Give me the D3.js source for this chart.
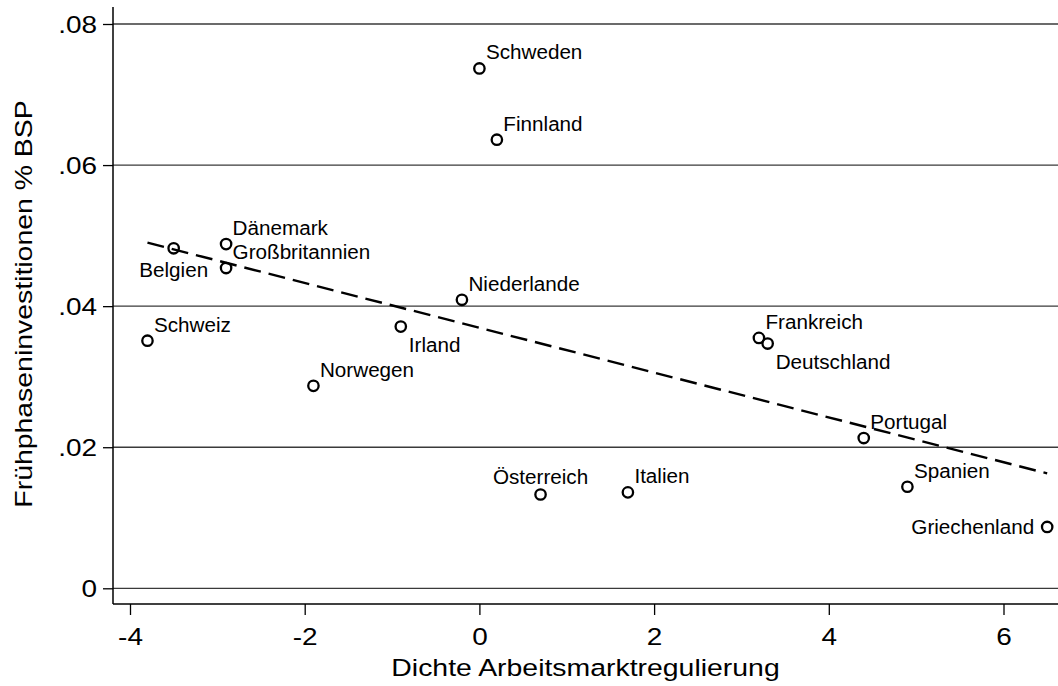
<!DOCTYPE html>
<html>
<head>
<meta charset="utf-8">
<script src="https://cdn.jsdelivr.net/npm/d3@7"></script>
<style>
  body { margin: 0; background: #fff; }
  text { font-family: "Liberation Sans", Arial, Helvetica, sans-serif; fill: #000; }
</style>
</head>
<body>
<div id="chart"></div>
<script>
// data
var countries  = ["Schweden", "Finnland", "Dänemark", "Großbritannien", "Belgien", "Niederlande", "Schweiz", "Irland",
                  "Norwegen", "Frankreich", "Deutschland", "Portugal", "Österreich", "Italien", "Spanien", "Griechenland"];
var regulation = [0, 0.2, -2.9, -2.9, -3.5, -0.2, -3.8, -0.9, -1.9, 3.2, 3.3, 4.4, 0.7, 1.7, 4.9, 6.5];
var earlyStage = [0.0737, 0.0636, 0.0488, 0.0454, 0.0482, 0.0409, 0.0351, 0.0371, 0.0287, 0.0355, 0.0347, 0.0213,
                  0.0133, 0.0136, 0.0144, 0.0087];
var xTicks = [-4, -2, 0, 2, 4, 6];
var yTicks = [0, 0.02, 0.04, 0.06, 0.08];
var xTitle = "Dichte Arbeitsmarktregulierung";
var yTitle = "Frühphaseninvestitionen % BSP";

// where each marker label sits (clock position, Stata style); default is 1 o'clock
var labelClock = {"Belgien": 6, "Irland": 4, "Deutschland": 4, "Griechenland": 9, "Österreich": 12};
var clockOffset = {
  1:  {dx: 6.5, dy: -9,  anchor: "start"},
  4:  {dx: 8,   dy: 25.5, anchor: "start"},
  6:  {dx: 0,   dy: 29,  anchor: "middle"},
  9:  {dx: -13, dy: 7,   anchor: "end"},
  12: {dx: 0,   dy: -10, anchor: "middle"}
};

var width = 1058, height = 686,
    plotLeft = 113, plotRight = 1058, plotTop = 7, plotBottom = 604;

var svg = d3.select("#chart").append("svg")
    .attr("width", width)
    .attr("height", height);

var x = d3.scaleLinear().domain([-4, 6]).range([130, 1003.5]);
var y = d3.scaleLinear().domain([0, 0.08]).range([588.3, 24]);

var data = countries.map(function(c, i) {
  return {name: c, x: regulation[i], y: earlyStage[i]};
});

// grid lines
svg.append("g")
  .selectAll("line")
  .data(yTicks)
  .join("line")
    .attr("x1", plotLeft)
    .attr("x2", plotRight)
    .attr("y1", d => y(d))
    .attr("y2", d => y(d))
    .attr("stroke", "#3a3a3a")
    .attr("stroke-width", 1.3);

// y axis
var yFmt = d => d === 0 ? "0" : d3.format(".2f")(d).replace(/^0/, "");
var yAxis = svg.append("g")
    .attr("transform", `translate(${plotLeft},0)`)
    .call(d3.axisLeft(y).tickValues(yTicks).tickFormat(yFmt).tickSize(10).tickSizeOuter(0));
yAxis.select(".domain").remove();
yAxis.selectAll(".tick line").attr("stroke", "#000").attr("stroke-width", 1.3);
yAxis.selectAll(".tick text")
    .attr("x", 0).attr("dy", null)
    .attr("text-anchor", "end")
    .attr("font-size", 23.3)
    .attr("transform", "translate(-16,8.5) scale(1.2,1)");

// x axis (plain hyphen for negatives, like the original)
var xAxis = svg.append("g")
    .attr("transform", `translate(0,${plotBottom})`)
    .call(d3.axisBottom(x).tickValues(xTicks).tickFormat(d => String(d)).tickSize(11).tickSizeOuter(0));
xAxis.select(".domain").remove();
xAxis.selectAll(".tick line").attr("stroke", "#000").attr("stroke-width", 1.3);
xAxis.selectAll(".tick text")
    .attr("y", 41.5).attr("dy", null)
    .attr("font-size", 23.3)
    .attr("transform", "scale(1.2,1)");

// axis lines
svg.append("line")
    .attr("x1", plotLeft).attr("x2", plotLeft)
    .attr("y1", plotTop).attr("y2", plotBottom)
    .attr("stroke", "#000").attr("stroke-width", 1.5);
svg.append("line")
    .attr("x1", plotLeft).attr("x2", plotRight)
    .attr("y1", plotBottom).attr("y2", plotBottom)
    .attr("stroke", "#000").attr("stroke-width", 1.5);

// axis titles
svg.append("text")
    .attr("text-anchor", "middle")
    .attr("font-size", 23.3)
    .attr("transform", `translate(${(plotLeft + plotRight) / 2},676) scale(1.22,1)`)
    .text(xTitle);
svg.append("text")
    .attr("text-anchor", "middle")
    .attr("font-size", 23.3)
    .attr("transform", `translate(32,304) rotate(-90) scale(1.22,1)`)
    .text(yTitle);

// linear fit (OLS over the points)
var mx = d3.mean(regulation), my = d3.mean(earlyStage);
var sxy = d3.sum(data, d => (d.x - mx) * (d.y - my));
var sxx = d3.sum(data, d => (d.x - mx) * (d.x - mx));
var slope = sxy / sxx, intercept = my - slope * mx;
var fitX = d3.extent(regulation);

svg.append("path")
    .datum(fitX.map(v => [v, intercept + slope * v]))
    .attr("d", d3.line().x(d => x(d[0])).y(d => y(d[1])))
    .attr("fill", "none")
    .attr("stroke", "#000")
    .attr("stroke-width", 2.4)
    .attr("stroke-dasharray", "17,8");

// markers
svg.append("g")
  .selectAll("circle")
  .data(data)
  .join("circle")
    .attr("cx", d => x(d.x))
    .attr("cy", d => y(d.y))
    .attr("r", 5.2)
    .attr("fill", "none")
    .attr("stroke", "#000")
    .attr("stroke-width", 2.3);

// marker labels
svg.append("g")
  .selectAll("text")
  .data(data)
  .join("text")
    .attr("font-size", 19.5)
    .attr("text-anchor", d => clockOffset[labelClock[d.name] || 1].anchor)
    .attr("transform", function(d) {
      var o = clockOffset[labelClock[d.name] || 1];
      return `translate(${x(d.x) + o.dx},${y(d.y) + o.dy}) scale(1.06,1)`;
    })
    .text(d => d.name);
</script>
</body>
</html>
